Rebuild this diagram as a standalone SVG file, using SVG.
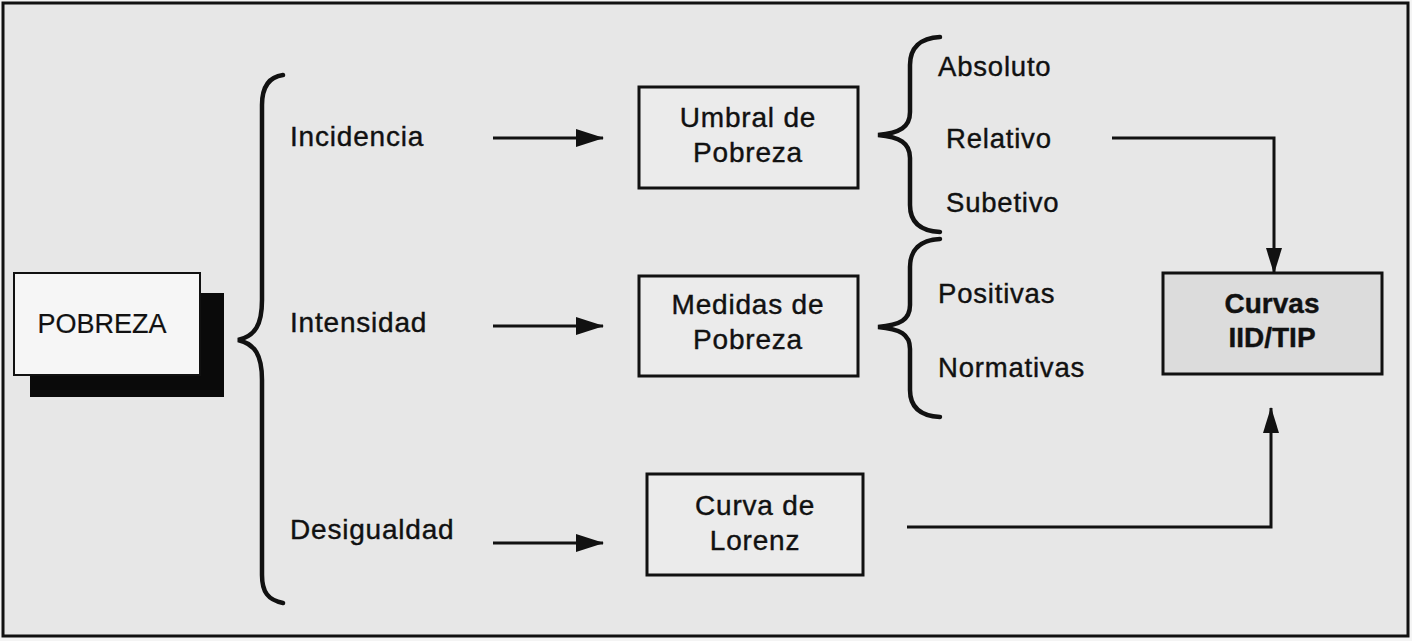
<svg xmlns="http://www.w3.org/2000/svg" width="1412" height="641" viewBox="0 0 1412 641">
<defs>
<marker id="ah" markerWidth="28" markerHeight="18" refX="27" refY="9" orient="auto" markerUnits="userSpaceOnUse">
<path d="M0,0 L28,9 L0,18 Z" fill="#111"/>
</marker>
<marker id="av" markerWidth="26" markerHeight="16" refX="25" refY="8" orient="auto" markerUnits="userSpaceOnUse">
<path d="M0,0 L26,8 L0,16 Z" fill="#111"/>
</marker>
</defs>
<style>
text{font-family:"Liberation Sans",Arial,sans-serif;fill:#111;font-size:28px;stroke:#111;stroke-width:0.4px}
.box{fill:#ebebeb;stroke:#111;stroke-width:3}
.brace{fill:none;stroke:#111;stroke-width:4.5;stroke-linecap:round}
.conn{fill:none;stroke:#111;stroke-width:3}
.lbl{letter-spacing:0.8px}
.sub{font-size:27.5px}
.mid{text-anchor:middle}
</style>
<rect x="0" y="0" width="1412" height="641" fill="#f4f4f4"/>
<rect x="3" y="3" width="1405" height="633" fill="#e7e7e7" stroke="#111" stroke-width="3"/>

<g id="pobreza">
<rect x="30" y="293" width="194" height="104" fill="#0a0a0a"/>
<rect x="14" y="273" width="186" height="102" fill="#f6f6f6" stroke="#111" stroke-width="2"/>
<text x="102" y="333" class="mid" style="font-size:27px;stroke-width:0.2px">POBREZA</text>
</g>

<g id="brace-main">
<path class="brace" d="M283,75 C268,77 262,88 262,105 L262,300 C262,325 255,336 238,340 C255,344 262,355 262,380 L262,575 C262,592 268,600 283,603"/>
</g>

<g id="labels-left">
<text x="290" y="146" class="lbl">Incidencia</text>
<text x="290" y="332" class="lbl">Intensidad</text>
<text x="290" y="539" class="lbl">Desigualdad</text>
</g>

<g id="umbral">
<rect class="box" x="639" y="87" width="219" height="101"/>
<text x="748" y="127" class="mid lbl">Umbral de</text>
<text x="748" y="162" class="mid lbl">Pobreza</text>
</g>

<g id="medidas">
<rect class="box" x="639" y="276" width="219" height="100"/>
<text x="748" y="314" class="mid lbl">Medidas de</text>
<text x="748" y="349" class="mid lbl">Pobreza</text>
</g>

<g id="lorenz">
<rect class="box" x="647" y="474" width="216" height="101"/>
<text x="755" y="515" class="mid lbl">Curva de</text>
<text x="755" y="550" class="mid lbl">Lorenz</text>
</g>

<g id="curvas">
<rect x="1163" y="273" width="219" height="101" fill="#dcdcdc" stroke="#111" stroke-width="3"/>
<text x="1272" y="313" class="mid" style="font-weight:bold">Curvas</text>
<text x="1272" y="347" class="mid" style="font-weight:bold">IID/TIP</text>
</g>

<g id="brace-umbral">
<path class="brace" d="M940,37 C920,38 910,48 910,65 L910,112 C910,127 900,133 878,135 C900,137 910,143 910,158 L910,205 C910,222 920,231 940,232"/>
<text x="938" y="76" class="lbl sub">Absoluto</text>
<text x="946" y="148" class="lbl sub">Relativo</text>
<text x="946" y="212" class="lbl sub">Subetivo</text>
</g>

<g id="brace-medidas">
<path class="brace" d="M940,239 C920,240 910,250 910,267 L910,305 C910,320 900,325 878,327 C900,329 910,334 910,349 L910,390 C910,407 920,416 940,417"/>
<text x="938" y="303" class="lbl sub">Positivas</text>
<text x="938" y="377" class="lbl sub">Normativas</text>
</g>

<g id="connectors">
<line class="conn" x1="493" y1="138" x2="603" y2="138" marker-end="url(#ah)"/>
<line class="conn" x1="493" y1="326" x2="603" y2="326" marker-end="url(#ah)"/>
<line class="conn" x1="493" y1="543" x2="603" y2="543" marker-end="url(#ah)"/>
<polyline class="conn" points="1112,138 1274,138 1274,273" marker-end="url(#av)"/>
<polyline class="conn" points="907,527 1271,527 1271,408" marker-end="url(#av)"/>
</g>
</svg>
